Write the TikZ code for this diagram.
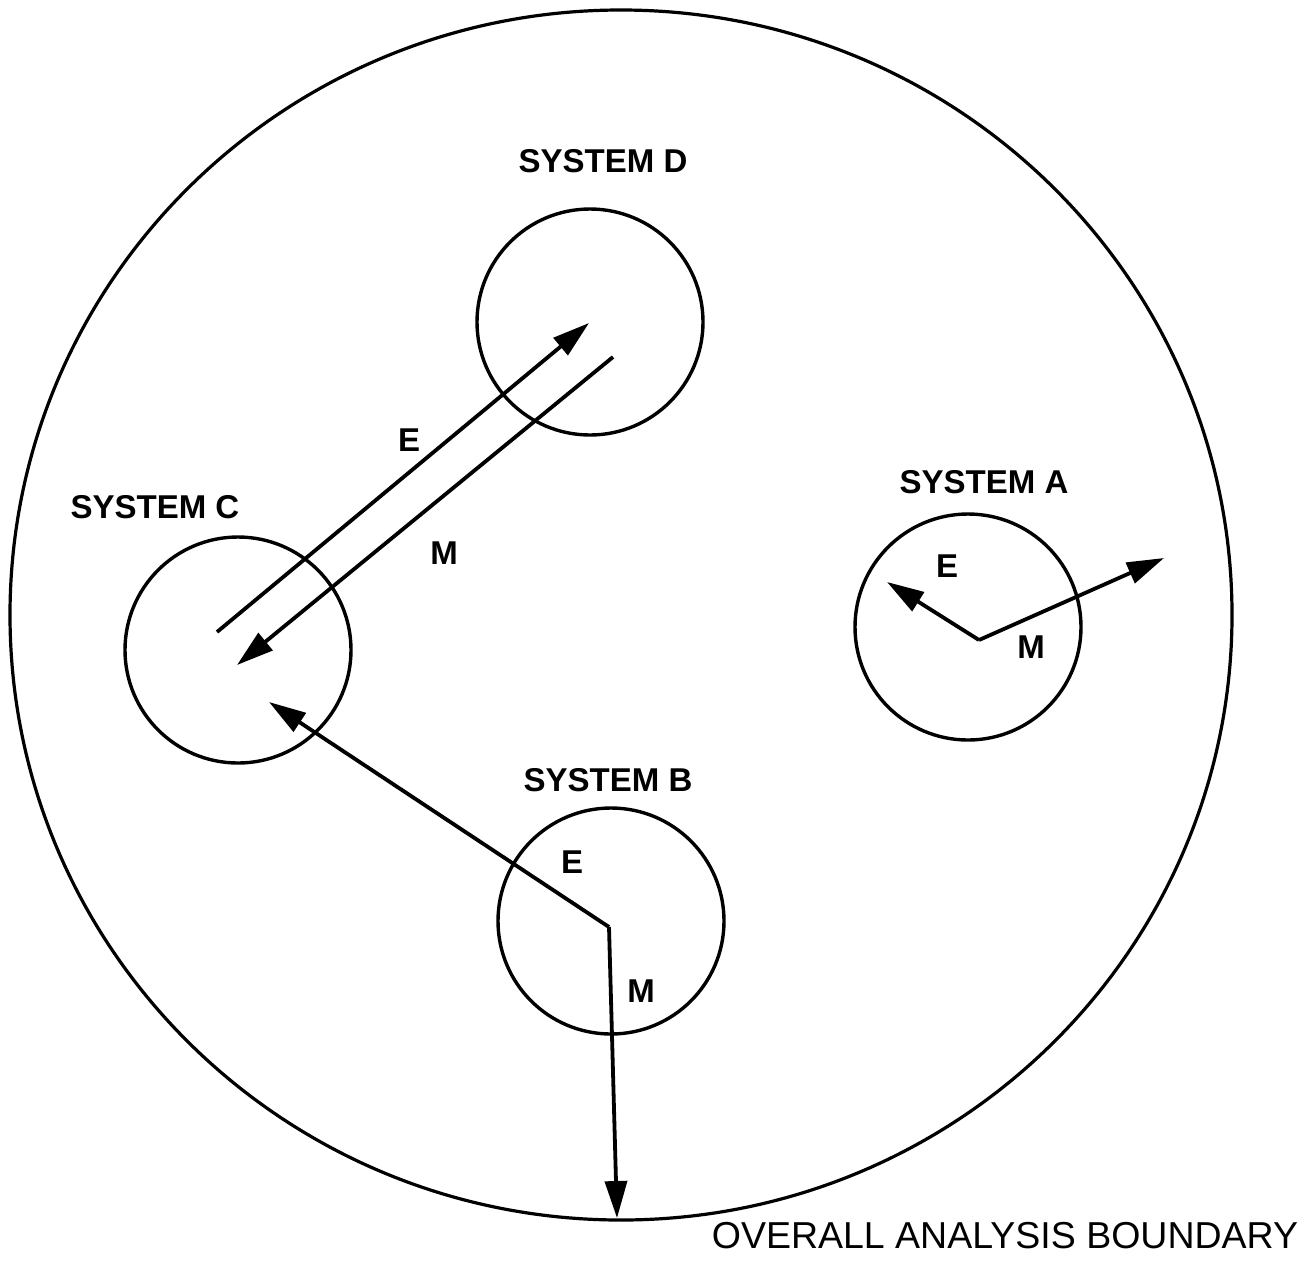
\documentclass[tikz,border=0pt]{standalone}
\usepackage{fontspec}
\setmainfont{Liberation Sans}
\usetikzlibrary{arrows.meta,shapes.geometric}
\begin{document}
\begin{tikzpicture}[x=1pt,y=-1pt,
  sysc/.style={circle,draw,line width=3.4pt,minimum size=226pt,inner sep=0pt},
  lbl/.style={font=\fontsize{33}{33}\selectfont\bfseries,inner sep=0pt},
  flow/.style={line width=3.8pt,-{Triangle[length=37pt,width=22pt]}}]
\useasboundingbox (0,0) rectangle (1308,1262);
\node[ellipse,draw,line width=3.2pt,minimum width=1222pt,minimum height=1210pt,inner sep=0pt] (boundary) at (621,615) {};
\node[sysc] (D) at (590,322) {};
\node[sysc] (C) at (238,650) {};
\node[sysc] (A) at (968,627) {};
\node[sysc] (B) at (611,921) {};
\node[lbl] (tD) at (603,161) {SYSTEM D};
\node[lbl] (tC) at (155,507) {SYSTEM C};
\node[lbl] (tA) at (984,482) {SYSTEM A};
\node[lbl] (tB) at (608,780) {SYSTEM B};
\node[font=\fontsize{37.5}{37.5}\selectfont,inner sep=0pt] (tO) at (1005,1236) {OVERALL ANALYSIS BOUNDARY};
% C-D exchange
\coordinate (ceS) at (217,632);
\coordinate (deT) at (589,323);
\coordinate (dmS) at (613,357);
\coordinate (cmT) at (237,665);
\draw[flow] (ceS) -- (deT);
\draw[flow] (dmS) -- (cmT);
\node[lbl] (lE1) at (409,440) {E};
\node[lbl] (lM1) at (444,553) {M};
% System A
\coordinate (aJ) at (979,640);
\coordinate (aE) at (887,582);
\coordinate (aM) at (1164,558);
\draw[flow] (aJ) -- (aE);
\draw[flow] (aJ) -- (aM);
\node[lbl] (lE2) at (947,566) {E};
\node[lbl] (lM2) at (1031,647) {M};
% System B
\coordinate (bJ) at (609,927);
\coordinate (cT) at (269,702);
\coordinate (oT) at (617,1218);
\draw[flow] (bJ) -- (cT);
\draw[flow] (bJ) -- (oT);
\node[lbl] (lE3) at (572,862) {E};
\node[lbl] (lM3) at (641,991) {M};
\end{tikzpicture}
\end{document}
